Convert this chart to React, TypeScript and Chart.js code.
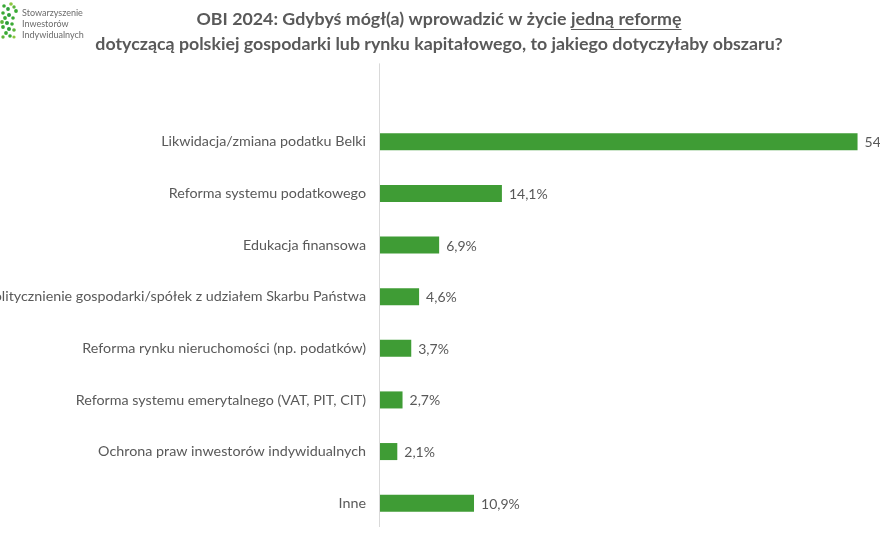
import { useEffect, useRef } from "react";
import { Chart, registerables } from "chart.js";

Chart.register(...registerables);

// Survey answers (share of respondents, %)
const categories = [
  "Likwidacja/zmiana podatku Belki",
  "Reforma systemu podatkowego",
  "Edukacja finansowa",
  "Odpolitycznienie gospodarki/spółek z udziałem Skarbu Państwa",
  "Reforma rynku nieruchomości (np. podatków)",
  "Reforma systemu emerytalnego (VAT, PIT, CIT)",
  "Ochrona praw inwestorów indywidualnych",
  "Inne",
];
const shares = [54.9, 14.1, 6.9, 4.6, 3.7, 2.7, 2.1, 10.9];

const titleLead = "OBI 2024: Gdybyś mógł(a) wprowadzić w życie ";
const titleUnderlined = "jedną reformę";
const titleLine2 =
  "dotyczącą polskiej gospodarki lub rynku kapitałowego, to jakiego dotyczyłaby obszaru?";
const logoLines = ["Stowarzyszenie", "Inwestorów", "Indywidualnych"];

const GREEN = "#3f9c35";
const GREY = "#595959";
const FONT = "Lato, 'Open Sans', sans-serif";

// The canvas is wider than the view and shifted left, so the longest
// label and the largest value run past the edges.
const SHIFT = 40;
const CANVAS_W = 1000;
const CANVAS_H = 540;

// logo mark: a cluster of green dots
const logoDots: [number, number, number, string][] = [
  [11, 4, 1.8, "#8cc63f"],
  [14, 7, 1.7, "#5cb53a"],
  [16, 11, 1.9, "#3aaa35"],
  [4, 6, 1.8, "#3aaa35"],
  [8, 9, 1.9, "#2e9e3a"],
  [3, 13, 1.8, "#3aaa35"],
  [9, 15, 2.0, "#2e9e3a"],
  [5, 18, 1.9, "#3aaa35"],
  [13, 18, 1.8, "#3aaa35"],
  [2, 22, 1.9, "#5cb53a"],
  [7, 23, 2.0, "#2e9e3a"],
  [12, 24, 1.8, "#3aaa35"],
  [3, 27, 1.9, "#3aaa35"],
  [9, 29, 2.0, "#2e9e3a"],
  [14, 30, 1.8, "#5cb53a"],
  [6, 33, 1.9, "#3aaa35"],
  [10, 36, 1.8, "#3aaa35"],
  [3, 37, 1.7, "#5cb53a"],
  [14, 37, 1.6, "#8cc63f"],
];

const decorPlugin = {
  id: "decor",
  afterDraw(chart: any) {
    const { ctx, chartArea, scales } = chart;
    ctx.save();

    // vertical axis line, reaching one empty row above the first bar
    const step = (chartArea.bottom - chartArea.top) / categories.length;
    const x0 = Math.round(scales.x.getPixelForValue(0)) + 0.5;
    ctx.strokeStyle = "#d9d9d9";
    ctx.lineWidth = 1;
    ctx.beginPath();
    ctx.moveTo(x0, chartArea.top - step - 1);
    ctx.lineTo(x0, chartArea.bottom - 2);
    ctx.stroke();

    // value labels
    ctx.fillStyle = GREY;
    ctx.font = `14px ${FONT}`;
    ctx.textAlign = "left";
    ctx.textBaseline = "middle";
    const meta = chart.getDatasetMeta(0);
    meta.data.forEach((bar: any, i: number) => {
      const txt = shares[i].toFixed(1).replace(".", ",") + "%";
      ctx.fillText(txt, bar.x + 7, bar.y + 1);
    });

    // title
    const cx = 439 + SHIFT;
    ctx.font = `bold 17.8px ${FONT}`;
    ctx.textAlign = "left";
    ctx.textBaseline = "alphabetic";
    const w1 = ctx.measureText(titleLead + titleUnderlined).width;
    const wl = ctx.measureText(titleLead).width;
    const sx = cx - w1 / 2;
    ctx.fillText(titleLead + titleUnderlined, sx, 25);
    ctx.strokeStyle = GREY;
    ctx.lineWidth = 1.2;
    ctx.beginPath();
    ctx.moveTo(sx + wl, 29.5);
    ctx.lineTo(sx + w1, 29.5);
    ctx.stroke();
    ctx.textAlign = "center";
    ctx.fillText(titleLine2, cx, 50);

    // logo
    logoDots.forEach(([x, y, r, c]) => {
      ctx.fillStyle = c;
      ctx.beginPath();
      ctx.arc(x + SHIFT, y, r, 0, Math.PI * 2);
      ctx.fill();
    });
    ctx.fillStyle = "#6b6b6b";
    ctx.font = `9px ${FONT}`;
    ctx.textAlign = "left";
    ctx.textBaseline = "middle";
    logoLines.forEach((t, i) => ctx.fillText(t, 22 + SHIFT, 13 + i * 11));

    ctx.restore();
  },
};

export default function App() {
  const ref = useRef<HTMLCanvasElement | null>(null);

  useEffect(() => {
    if (!ref.current) return;
    const chart = new Chart(ref.current, {
      type: "bar",
      data: {
        labels: categories,
        datasets: [
          {
            data: shares,
            backgroundColor: GREEN,
            borderWidth: 0,
            categoryPercentage: 1,
            barPercentage: 0.33,
          },
        ],
      },
      options: {
        indexAxis: "y",
        animation: false,
        responsive: false,
        devicePixelRatio: 1,
        layout: { padding: { left: 0, right: 58, top: 116, bottom: 11 } },
        plugins: {
          legend: { display: false },
          tooltip: { enabled: false },
        },
        scales: {
          x: {
            display: false,
            min: 0,
            max: 60,
          },
          y: {
            grid: { display: false, drawTicks: false },
            border: { display: false },
            ticks: {
              autoSkip: false,
              padding: 13,
              color: GREY,
              font: { family: FONT, size: 14.3 },
            },
            afterFit(scale: any) {
              scale.width = 379 + SHIFT;
              // the label gap is horizontal only; keep the plot height set by layout padding
              scale.paddingTop = 0;
              scale.paddingBottom = 0;
            },
          },
        },
      },
      plugins: [decorPlugin],
    });
    return () => chart.destroy();
  }, []);

  return (
    <div
      style={{
        position: "fixed",
        left: 0,
        top: 0,
        width: 880,
        height: 540,
        overflow: "hidden",
        background: "#ffffff",
      }}
    >
      <canvas
        ref={ref}
        width={CANVAS_W}
        height={CANVAS_H}
        style={{
          position: "absolute",
          left: -SHIFT,
          top: 0,
          width: CANVAS_W,
          height: CANVAS_H,
        }}
      />
    </div>
  );
}
